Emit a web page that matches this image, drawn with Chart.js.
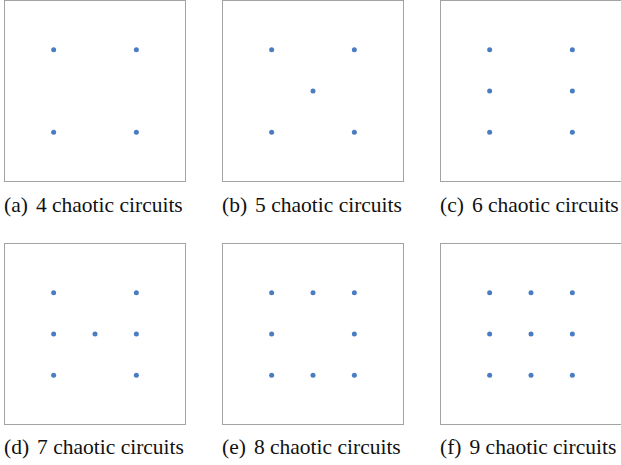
<!DOCTYPE html>
<html>
<head>
<meta charset="utf-8">
<script src="https://cdn.jsdelivr.net/npm/chart.js@4"></script>
<style>
  body { margin: 0; background: #fff; width: 621px; height: 465px; position: relative; overflow: hidden; }
  .box { position: absolute; width: 182px; height: 182px; }
  .cap { position: absolute; width: 200px; font-family: "Liberation Serif", "Times New Roman", serif; font-size: 21.5px; line-height: 1; color: #111; white-space: nowrap; }
  .cap span { margin-right: 8px; }
</style>
</head>
<body>
<div class="box" style="left:4px;top:0px"><canvas id="canvas-a"></canvas></div>
<div class="box" style="left:222px;top:0px"><canvas id="canvas-b"></canvas></div>
<div class="box" style="left:440px;top:0px"><canvas id="canvas-c"></canvas></div>
<div class="box" style="left:4px;top:243px"><canvas id="canvas-d"></canvas></div>
<div class="box" style="left:222px;top:243px"><canvas id="canvas-e"></canvas></div>
<div class="box" style="left:440px;top:243px"><canvas id="canvas-f"></canvas></div>

<div class="cap" style="left:4px;top:195px"><span>(a)</span>4 chaotic circuits</div>
<div class="cap" style="left:222px;top:195px"><span>(b)</span>5 chaotic circuits</div>
<div class="cap" style="left:440px;top:195px"><span>(c)</span>6 chaotic circuits</div>
<div class="cap" style="left:4px;top:437px"><span>(d)</span>7 chaotic circuits</div>
<div class="cap" style="left:222px;top:437px"><span>(e)</span>8 chaotic circuits</div>
<div class="cap" style="left:440px;top:437px"><span>(f)</span>9 chaotic circuits</div>

<script>
// circuit positions on a 3x3 grid (column, row)
const circuits4 = [[0, 2], [2, 2], [0, 0], [2, 0]];
const circuits5 = [[0, 2], [2, 2], [1, 1], [0, 0], [2, 0]];
const circuits6 = [[0, 2], [2, 2], [0, 1], [2, 1], [0, 0], [2, 0]];
const circuits7 = [[0, 2], [2, 2], [0, 1], [1, 1], [2, 1], [0, 0], [2, 0]];
const circuits8 = [[0, 2], [1, 2], [2, 2], [0, 1], [2, 1], [0, 0], [1, 0], [2, 0]];
const circuits9 = [[0, 2], [1, 2], [2, 2], [0, 1], [1, 1], [2, 1], [0, 0], [1, 0], [2, 0]];

const axisMin = -1.2;
const axisMax = 3.2;

const frame = {
  id: 'frame',
  afterDraw(chart) {
    const a = chart.chartArea;
    const ctx = chart.ctx;
    ctx.save();
    ctx.strokeStyle = '#a3a3a3';
    ctx.lineWidth = 1;
    ctx.strokeRect(a.left + 0.5, a.top + 0.5, a.right - a.left - 1, a.bottom - a.top - 1);
    ctx.restore();
  },
};

function drawPanel(id, points) {
  const ctx = document.getElementById(id).getContext('2d');
  new Chart(ctx, {
    type: 'scatter',
    data: {
      datasets: [
        {
          data: points.map(p => ({ x: p[0], y: p[1] })),
          backgroundColor: '#4a7cc2',
          borderWidth: 0,
          pointRadius: 2.5,
        },
      ],
    },
    options: {
      responsive: true,
      maintainAspectRatio: false,
      animation: false,
      layout: { padding: 0, autoPadding: false },
      plugins: {
        legend: { display: false },
        tooltip: { enabled: false },
      },
      scales: {
        x: { display: false, min: axisMin, max: axisMax },
        y: { display: false, min: axisMin, max: axisMax },
      },
    },
    plugins: [frame],
  });
}

drawPanel('canvas-a', circuits4);
drawPanel('canvas-b', circuits5);
drawPanel('canvas-c', circuits6);
drawPanel('canvas-d', circuits7);
drawPanel('canvas-e', circuits8);
drawPanel('canvas-f', circuits9);
</script>
</body>
</html>
